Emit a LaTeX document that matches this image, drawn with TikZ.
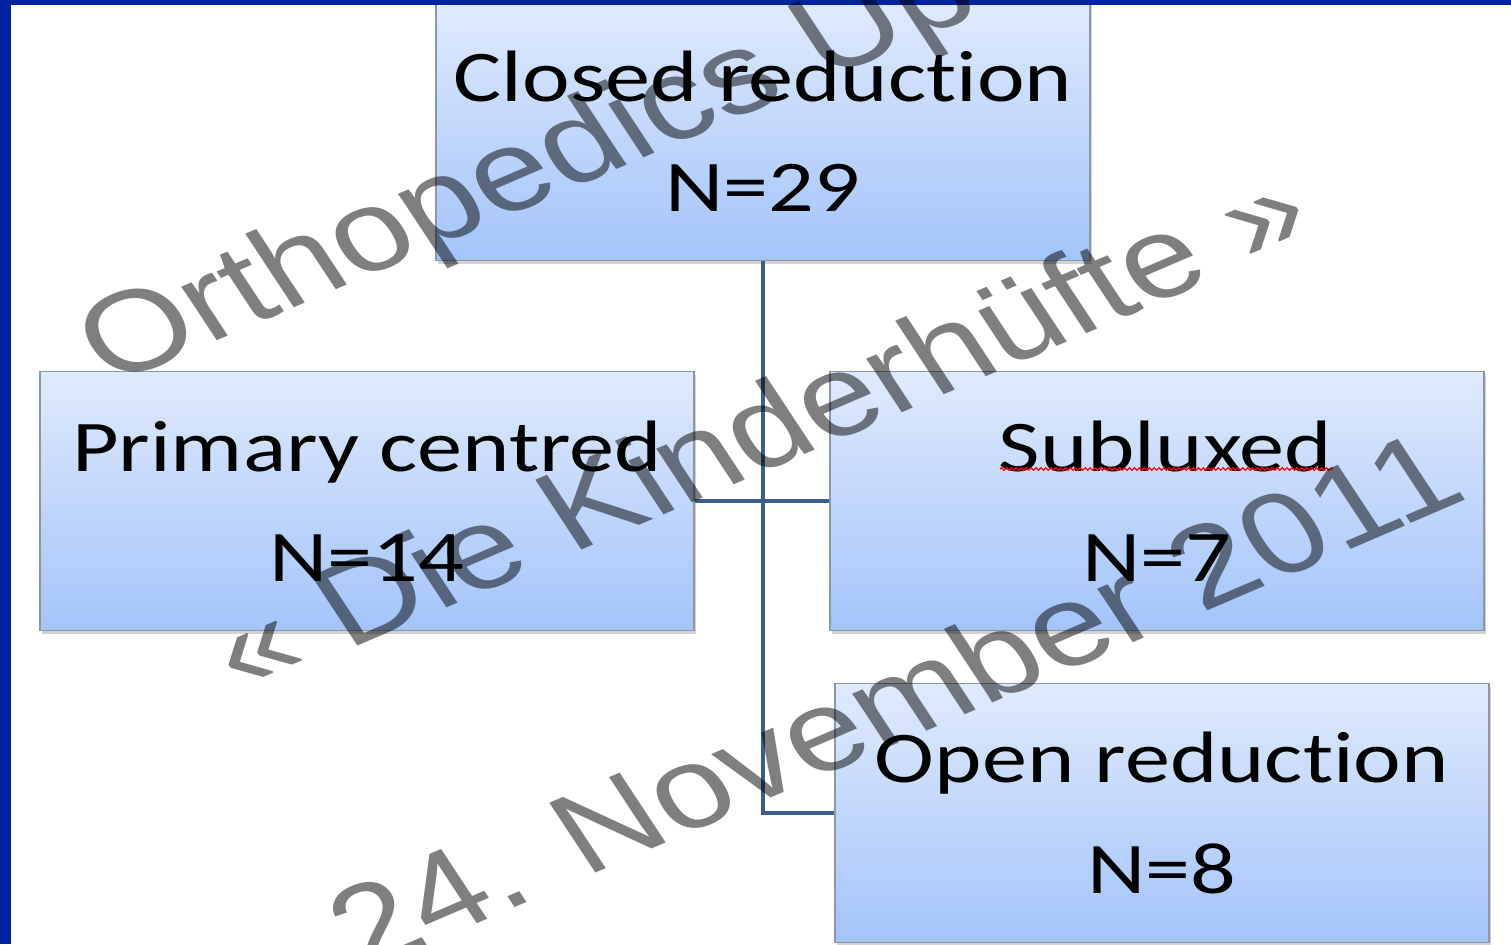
\documentclass[tikz,border=0pt]{standalone}
\usepackage{fontspec}
\setmainfont{Carlito}[FakeStretch=1.24,Ligatures=NoCommon]
\newfontfamily\markfont{Liberation Sans}
\usetikzlibrary{positioning,shadows,decorations.pathmorphing}
\definecolor{frameblue}{RGB}{0,35,160}
\definecolor{boxtop}{RGB}{224,234,252}
\definecolor{boxbottom}{RGB}{163,196,250}
\definecolor{boxline}{RGB}{140,150,168}
\definecolor{linkblue}{RGB}{58,95,140}
\tikzset{
    group/.style={
           rectangle,
           draw=boxline, line width=0.4pt,
           top color=boxtop, bottom color=boxbottom,
           minimum width=6.54cm, minimum height=2.59cm,
           inner sep=0pt, align=center,
           font=\fontsize{20.7}{31.3}\selectfont,
           drop shadow={shadow xshift=0.6pt,shadow yshift=-0.9pt,opacity=0.35},
           },
}
\tikzset{
    link/.style={
           draw=linkblue, line width=0.9pt,
           },
}
\tikzset{
    spell/.style={
           draw=red, line width=0.35pt,
           decorate, decoration={snake,amplitude=0.35pt,segment length=1.4pt},
           },
}
\tikzset{
    wmark/.style={
           text=black, opacity=0.5,
           font=\markfont\fontsize{32.7}{39}\selectfont,
           inner sep=0pt, rotate=28, transform shape,
           },
}

\begin{document}
\begin{tikzpicture}[x=0.01cm,y=-0.01cm]
\useasboundingbox (0,0) rectangle (1511,944);
\clip (0,0) rectangle (1511,944);
\fill[white] (0,0) rectangle (1511,944);
% boxes
\node[group](closed) at (763,131){Closed reduction\\N=29};
\node[group](centred) at (367,501){Primary centred\\N=14};
\node[group](subluxed) at (1157,501){\hspace*{0.17cm}Subluxed\\N=7};
\node[group](open) at (1162,813){Open reduction\\N=8};
% connectors
\draw[link] (closed.south) |- (open.west);
\draw[link] (centred.east) -- (subluxed.west);
\draw[spell] (1000,469) -- (1333,469);
% frame
\fill[frameblue] (0,0) rectangle (11,944);
\fill[frameblue] (0,0) rectangle (1511,5);
% watermark
\begin{scope}[xscale=1.24]
\node[wmark](line1) at (428,173){Orthopedics Up};
\node[wmark](line2) at (611,428){« Die Kinderhüfte »};
\node[wmark](line3) at (721,699){24. November 2011};
\end{scope}
\end{tikzpicture}
\end{document}
